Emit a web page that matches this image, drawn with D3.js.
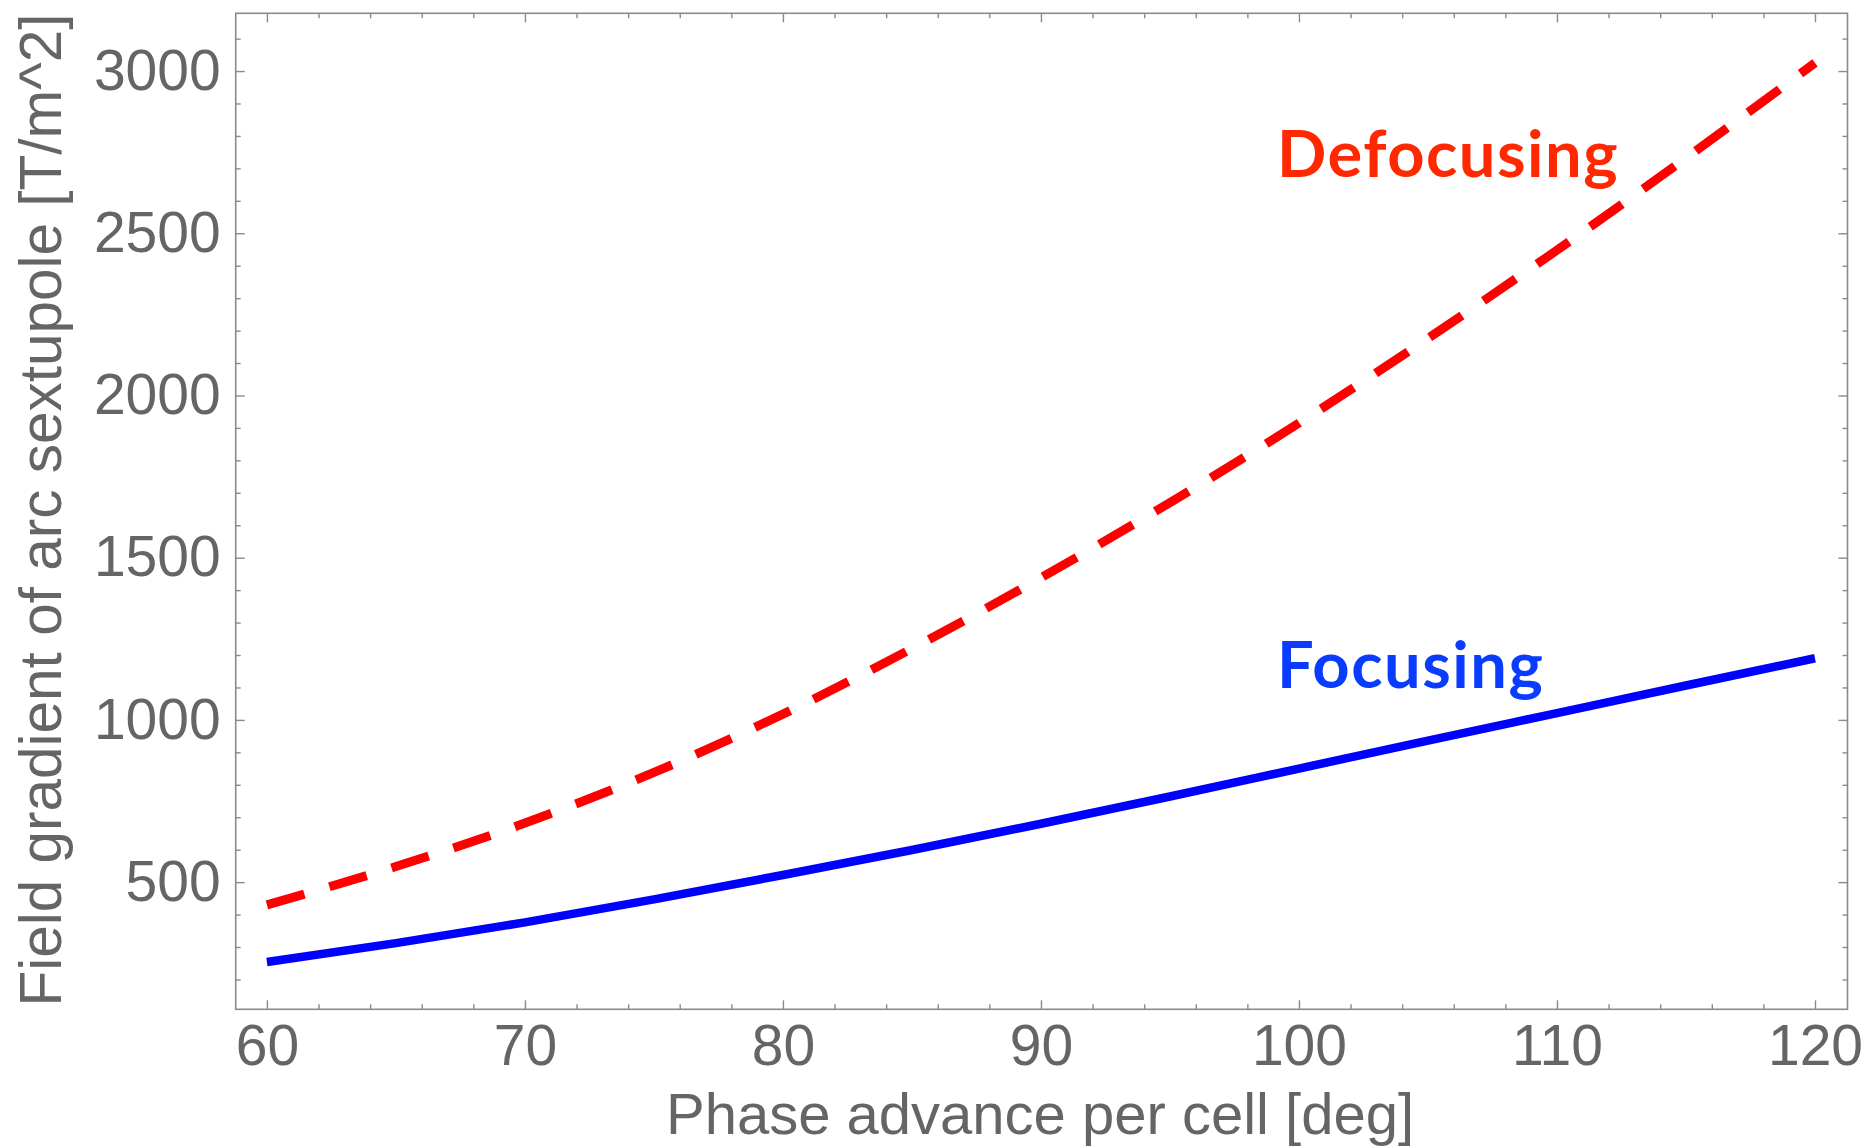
<!DOCTYPE html>
<html>
<head>
<meta charset="utf-8">
<script src="https://cdn.jsdelivr.net/npm/d3@7"></script>
<style>
  body { margin: 0; background: #fff; }
  svg { display: block; }
</style>
</head>
<body>
<script>
// phase advance per cell [deg]
var phase = [60, 65, 70, 75, 80, 85, 90, 95, 100, 105, 110, 115, 120];
// sextupole gradients [T/m^2]
var focusing = [254, 312, 376, 447, 522, 599, 680, 764, 850, 936, 1021, 1106, 1190];
var defocusing = [430, 548, 682, 838, 1018, 1220, 1438, 1670, 1915, 2176, 2448, 2732, 3025];

var xMajor = [60, 70, 80, 90, 100, 110, 120];
var yMajor = [500, 1000, 1500, 2000, 2500, 3000];

var screen = { width: 1872, height: 1148 };
var frame = { left: 235.7, right: 1847.5, top: 13.3, bottom: 1009.3 };

var gray = '#8a8a8a';
var textGray = '#656565';

var svg = d3.select('body')
            .append('svg')
            .attr('width', screen.width)
            .attr('height', screen.height);

var xScale = d3.scaleLinear()
               .domain([58.79, 121.26])
               .range([frame.left, frame.right]);

var yScale = d3.scaleLinear()
               .domain([108, 3178])
               .range([frame.bottom, frame.top]);

var xMinor = d3.range(58, 122, 2).filter(function(d){ return d % 10 != 0 && d > 58.79 && d < 121.26; });
var yMinor = d3.range(200, 3200, 100).filter(function(d){ return d % 500 != 0; });

// ticks on all four sides, pointing inward (mathematica frame style)
var addAxis = function(axisFn, scale, values, size, transform, labels){
  var g = svg.append('g')
             .attr('transform', transform)
             .call(axisFn(scale)
                     .tickValues(values)
                     .tickSize(-size)
                     .tickPadding(labels ? 15 : 0)
                     .tickFormat(labels ? d3.format('d') : ''));
  g.select('.domain').remove();
  g.selectAll('.tick line').attr('stroke', gray).attr('stroke-width', 1.4);
  g.selectAll('.tick text')
   .attr('fill', textGray)
   .style('font-family', '"Liberation Sans", Arial, sans-serif')
   .style('font-size', '57px');
  return g;
}

addAxis(d3.axisBottom, xScale, xMajor, 9, 'translate(0,' + frame.bottom + ')', true);
addAxis(d3.axisBottom, xScale, xMinor, 5, 'translate(0,' + frame.bottom + ')', false);
addAxis(d3.axisTop, xScale, xMajor, 9, 'translate(0,' + frame.top + ')', false);
addAxis(d3.axisTop, xScale, xMinor, 5, 'translate(0,' + frame.top + ')', false);
addAxis(d3.axisLeft, yScale, yMajor, 9, 'translate(' + frame.left + ',0)', true);
addAxis(d3.axisLeft, yScale, yMinor, 5, 'translate(' + frame.left + ',0)', false);
addAxis(d3.axisRight, yScale, yMajor, 9, 'translate(' + frame.right + ',0)', false);
addAxis(d3.axisRight, yScale, yMinor, 5, 'translate(' + frame.right + ',0)', false);

svg.append('rect')
   .attr('x', frame.left)
   .attr('y', frame.top)
   .attr('width', frame.right - frame.left)
   .attr('height', frame.bottom - frame.top)
   .attr('fill', 'none')
   .attr('stroke', gray)
   .attr('stroke-width', 1.6);

var line = d3.line()
             .x(function(d){ return xScale(d[0]); })
             .y(function(d){ return yScale(d[1]); })
             .curve(d3.curveMonotoneX);

svg.append('path')
   .datum(d3.zip(phase, focusing))
   .attr('d', line)
   .attr('fill', 'none')
   .attr('stroke', '#0000ff')
   .attr('stroke-width', 8.5);

svg.append('path')
   .datum(d3.zip(phase, defocusing))
   .attr('d', line)
   .attr('fill', 'none')
   .attr('stroke', '#ff0000')
   .attr('stroke-width', 9)
   .attr('stroke-dasharray', '39,26');

// curve labels
svg.append('text')
   .attr('x', 1277)
   .attr('y', 177)
   .attr('fill', '#ff2800')
   .style('font-family', 'Lato, "Open Sans", sans-serif')
   .style('font-weight', 'bold')
   .style('font-size', '65px')
   .style('letter-spacing', '1.5px')
   .text('Defocusing');

svg.append('text')
   .attr('x', 1277)
   .attr('y', 688)
   .attr('fill', '#0a3cff')
   .style('font-family', 'Lato, "Open Sans", sans-serif')
   .style('font-weight', 'bold')
   .style('font-size', '65px')
   .style('letter-spacing', '1.5px')
   .text('Focusing');

// axis titles
svg.append('text')
   .attr('x', 1040)
   .attr('y', 1134)
   .attr('text-anchor', 'middle')
   .attr('fill', textGray)
   .style('font-family', '"Liberation Sans", Arial, sans-serif')
   .style('font-size', '58px')
   .text('Phase advance per cell [deg]');

svg.append('text')
   .attr('transform', 'translate(61,510) rotate(-90)')
   .attr('text-anchor', 'middle')
   .attr('fill', textGray)
   .style('font-family', '"Liberation Sans", Arial, sans-serif')
   .style('font-size', '58.5px')
   .text('Field gradient of arc sextupole [T/m^2]');
</script>
</body>
</html>
